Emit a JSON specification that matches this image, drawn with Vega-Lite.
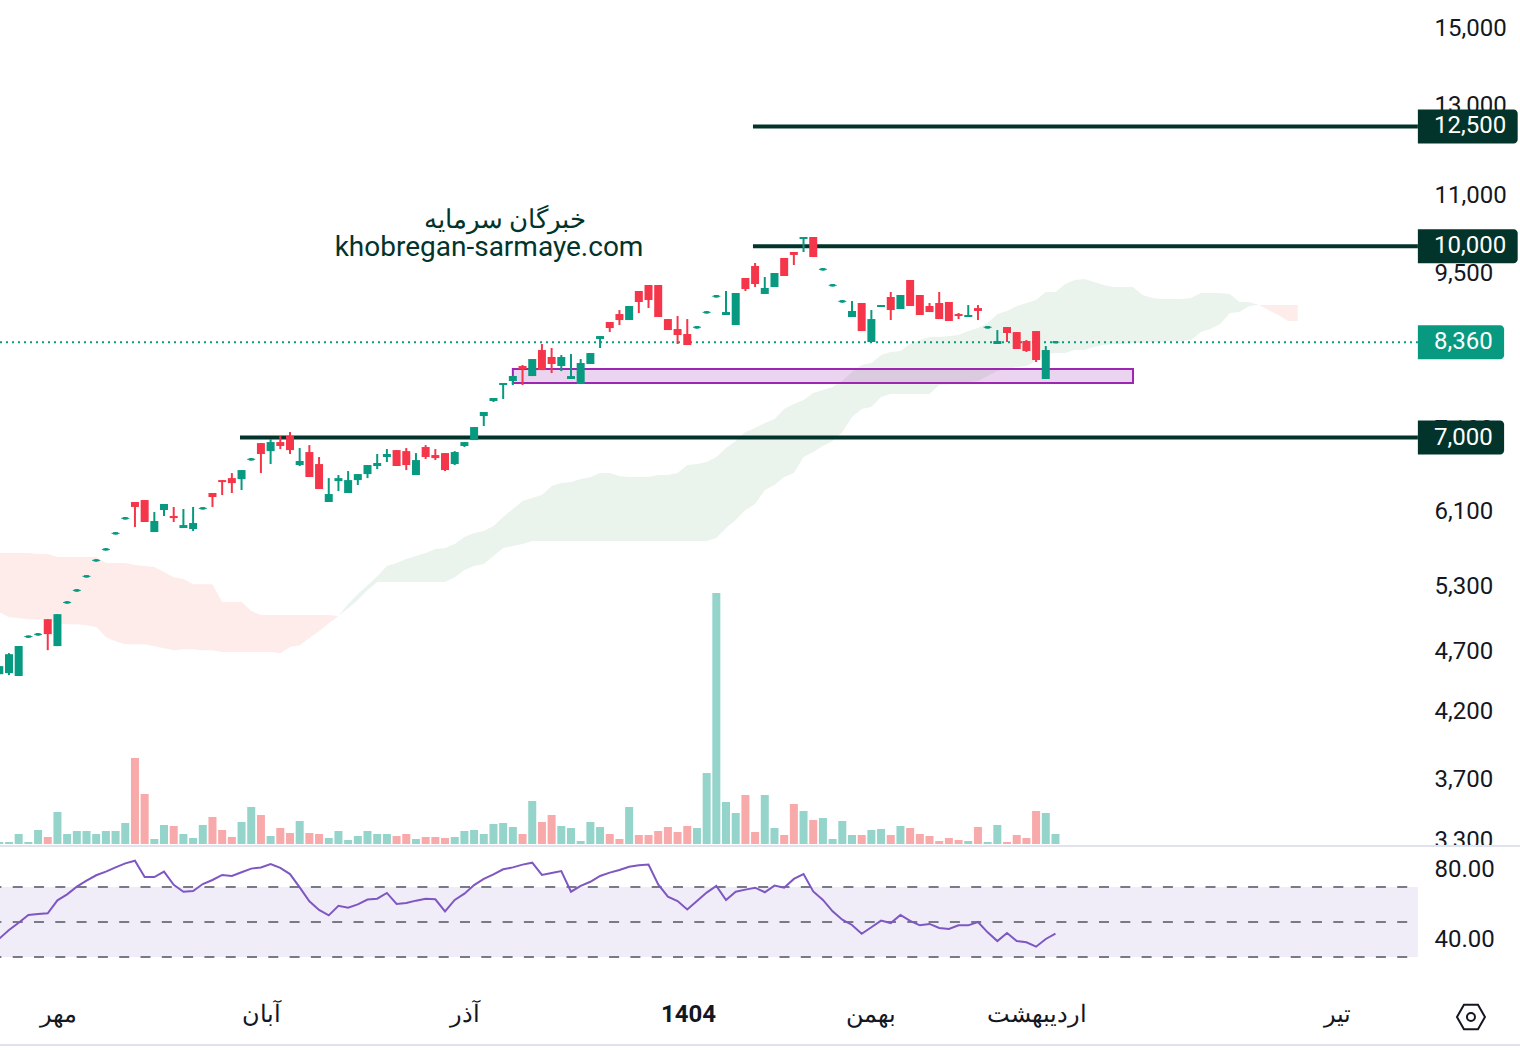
{"$schema":"https://vega.github.io/schema/vega-lite/v6.json","width":1520,"height":1050,"padding":0,"autosize":{"type":"none"},"background":"white","config":{"view":{"stroke":null},"font":"Roboto"},
"datasets":{
"candles":[
{"i":0,"open":4503,"close":4571,"high":4571,"low":4503,"volume":2,"rsi":40.5,"dir":"up"},
{"i":1,"open":4512,"close":4674,"high":4683,"low":4495,"volume":2,"rsi":45.4,"dir":"up"},
{"i":2,"open":4487,"close":4745,"high":4745,"low":4487,"volume":10,"rsi":49.6,"dir":"up"},
{"i":3,"open":4819,"close":4840,"high":4840,"low":4819,"volume":2,"rsi":54,"dir":"up"},
{"i":4,"open":4839,"close":4861,"high":4861,"low":4839,"volume":14,"rsi":54.6,"dir":"up"},
{"i":5,"open":4989,"close":4852,"high":4989,"low":4709,"volume":7,"rsi":55,"dir":"down"},
{"i":6,"open":4745,"close":5036,"high":5036,"low":4745,"volume":32,"rsi":62.4,"dir":"up"},
{"i":7,"open":5136,"close":5159,"high":5159,"low":5136,"volume":10,"rsi":65.8,"dir":"up"},
{"i":8,"open":5252,"close":5276,"high":5276,"low":5252,"volume":13,"rsi":70.2,"dir":"up"},
{"i":9,"open":5392,"close":5416,"high":5416,"low":5392,"volume":13,"rsi":73.6,"dir":"up"},
{"i":10,"open":5555,"close":5579,"high":5579,"low":5555,"volume":10,"rsi":76.7,"dir":"up"},
{"i":11,"open":5670,"close":5695,"high":5695,"low":5670,"volume":13,"rsi":78.8,"dir":"up"},
{"i":12,"open":5842,"close":5868,"high":5868,"low":5842,"volume":13,"rsi":81.2,"dir":"up"},
{"i":13,"open":6008,"close":6035,"high":6035,"low":6008,"volume":21,"rsi":83.5,"dir":"up"},
{"i":14,"open":6207,"close":6150,"high":6207,"low":5924,"volume":86,"rsi":85,"dir":"down"},
{"i":15,"open":6230,"close":5980,"high":6230,"low":5980,"volume":50,"rsi":75.7,"dir":"down"},
{"i":16,"open":5869,"close":5991,"high":6092,"low":5869,"volume":5,"rsi":75.7,"dir":"up"},
{"i":17,"open":6115,"close":6184,"high":6184,"low":6047,"volume":19,"rsi":78.8,"dir":"up"},
{"i":18,"open":6047,"close":6024,"high":6150,"low":5980,"volume":18,"rsi":71.3,"dir":"down"},
{"i":19,"open":5913,"close":5946,"high":6127,"low":5913,"volume":10,"rsi":67.3,"dir":"up"},
{"i":20,"open":5902,"close":5969,"high":6150,"low":5880,"volume":6,"rsi":67.7,"dir":"up"},
{"i":21,"open":6121,"close":6148,"high":6148,"low":6121,"volume":19,"rsi":71.7,"dir":"up"},
{"i":22,"open":6312,"close":6265,"high":6312,"low":6150,"volume":27,"rsi":74,"dir":"down"},
{"i":23,"open":6466,"close":6442,"high":6466,"low":6288,"volume":14,"rsi":76.9,"dir":"down"},
{"i":24,"open":6490,"close":6430,"high":6551,"low":6312,"volume":7,"rsi":76.3,"dir":"down"},
{"i":25,"open":6478,"close":6588,"high":6588,"low":6347,"volume":22,"rsi":78.4,"dir":"up"},
{"i":26,"open":6706,"close":6736,"high":6736,"low":6706,"volume":37,"rsi":80.5,"dir":"up"},
{"i":27,"open":6928,"close":6788,"high":6928,"low":6551,"volume":29,"rsi":81.2,"dir":"down"},
{"i":28,"open":6825,"close":6941,"high":6980,"low":6662,"volume":8,"rsi":83.1,"dir":"up"},
{"i":29,"open":6941,"close":6890,"high":7019,"low":6851,"volume":16,"rsi":80.9,"dir":"down"},
{"i":30,"open":7019,"close":6838,"high":7072,"low":6788,"volume":11,"rsi":77.4,"dir":"down"},
{"i":31,"open":6650,"close":6700,"high":6864,"low":6638,"volume":23,"rsi":69.8,"dir":"up"},
{"i":32,"open":6813,"close":6503,"high":6902,"low":6503,"volume":11,"rsi":61.8,"dir":"down"},
{"i":33,"open":6662,"close":6359,"high":6750,"low":6359,"volume":10,"rsi":56.9,"dir":"down"},
{"i":34,"open":6207,"close":6300,"high":6490,"low":6207,"volume":6,"rsi":53.8,"dir":"up"},
{"i":35,"open":6454,"close":6490,"high":6527,"low":6335,"volume":13,"rsi":59.3,"dir":"up"},
{"i":36,"open":6312,"close":6466,"high":6576,"low":6312,"volume":4,"rsi":58.2,"dir":"up"},
{"i":37,"open":6466,"close":6539,"high":6539,"low":6406,"volume":8,"rsi":60.1,"dir":"up"},
{"i":38,"open":6539,"close":6650,"high":6650,"low":6490,"volume":13,"rsi":62.8,"dir":"up"},
{"i":39,"open":6638,"close":6675,"high":6788,"low":6600,"volume":10,"rsi":63.3,"dir":"up"},
{"i":40,"open":6750,"close":6788,"high":6851,"low":6687,"volume":10,"rsi":66.6,"dir":"up"},
{"i":41,"open":6838,"close":6638,"high":6838,"low":6638,"volume":8,"rsi":60.3,"dir":"down"},
{"i":42,"open":6825,"close":6650,"high":6864,"low":6588,"volume":10,"rsi":60.9,"dir":"down"},
{"i":43,"open":6527,"close":6712,"high":6800,"low":6527,"volume":5,"rsi":62.2,"dir":"up"},
{"i":44,"open":6877,"close":6750,"high":6902,"low":6725,"volume":7,"rsi":63.3,"dir":"down"},
{"i":45,"open":6775,"close":6737,"high":6851,"low":6712,"volume":7,"rsi":63,"dir":"down"},
{"i":46,"open":6800,"close":6588,"high":6800,"low":6576,"volume":6,"rsi":56.1,"dir":"down"},
{"i":47,"open":6662,"close":6813,"high":6825,"low":6650,"volume":7,"rsi":62.6,"dir":"up"},
{"i":48,"open":6890,"close":6941,"high":6941,"low":6877,"volume":13,"rsi":66.2,"dir":"up"},
{"i":49,"open":6967,"close":7138,"high":7138,"low":6967,"volume":14,"rsi":71.1,"dir":"up"},
{"i":50,"open":7286,"close":7341,"high":7341,"low":7152,"volume":10,"rsi":74.6,"dir":"up"},
{"i":51,"open":7493,"close":7535,"high":7535,"low":7479,"volume":20,"rsi":77.2,"dir":"up"},
{"i":52,"open":7720,"close":7749,"high":7749,"low":7521,"volume":21,"rsi":80.1,"dir":"up"},
{"i":53,"open":7778,"close":7850,"high":7850,"low":7720,"volume":17,"rsi":81.2,"dir":"up"},
{"i":54,"open":7998,"close":7953,"high":8013,"low":7720,"volume":10,"rsi":82.8,"dir":"down"},
{"i":55,"open":7850,"close":8103,"high":8103,"low":7850,"volume":43,"rsi":83.9,"dir":"up"},
{"i":56,"open":8240,"close":7938,"high":8333,"low":7938,"volume":22,"rsi":76.9,"dir":"down"},
{"i":57,"open":8134,"close":8028,"high":8271,"low":7894,"volume":29,"rsi":78,"dir":"down"},
{"i":58,"open":7998,"close":8134,"high":8164,"low":7923,"volume":18,"rsi":79.1,"dir":"up"},
{"i":59,"open":7807,"close":7850,"high":8179,"low":7807,"volume":16,"rsi":67.3,"dir":"up"},
{"i":60,"open":7734,"close":8043,"high":8103,"low":7734,"volume":3,"rsi":70.6,"dir":"up"},
{"i":61,"open":8028,"close":8194,"high":8194,"low":8028,"volume":22,"rsi":73,"dir":"up"},
{"i":62,"open":8411,"close":8458,"high":8458,"low":8271,"volume":17,"rsi":76.3,"dir":"up"},
{"i":63,"open":8682,"close":8585,"high":8682,"low":8521,"volume":10,"rsi":78.2,"dir":"down"},
{"i":64,"open":8812,"close":8714,"high":8878,"low":8633,"volume":5,"rsi":79.7,"dir":"down"},
{"i":65,"open":8714,"close":8945,"high":8945,"low":8714,"volume":37,"rsi":81.6,"dir":"up"},
{"i":66,"open":9199,"close":9012,"high":9199,"low":8829,"volume":9,"rsi":82.4,"dir":"down"},
{"i":67,"open":9302,"close":9045,"high":9302,"low":8911,"volume":9,"rsi":82.8,"dir":"down"},
{"i":68,"open":9302,"close":8763,"high":9302,"low":8763,"volume":13,"rsi":71.5,"dir":"down"},
{"i":69,"open":8730,"close":8553,"high":8730,"low":8553,"volume":17,"rsi":64.5,"dir":"down"},
{"i":70,"open":8569,"close":8474,"high":8779,"low":8333,"volume":12,"rsi":62,"dir":"down"},
{"i":71,"open":8490,"close":8317,"high":8730,"low":8317,"volume":18,"rsi":57.2,"dir":"down"},
{"i":72,"open":8577,"close":8617,"high":8617,"low":8577,"volume":16,"rsi":62,"dir":"up"},
{"i":73,"open":8821,"close":8860,"high":8860,"low":8821,"volume":71,"rsi":66.8,"dir":"up"},
{"i":74,"open":9088,"close":9130,"high":9130,"low":9088,"volume":251,"rsi":70.6,"dir":"up"},
{"i":75,"open":8796,"close":8845,"high":9199,"low":8796,"volume":42,"rsi":62.6,"dir":"up"},
{"i":76,"open":8633,"close":9165,"high":9165,"low":8633,"volume":31,"rsi":67.3,"dir":"up"},
{"i":77,"open":9424,"close":9233,"high":9424,"low":9199,"volume":49,"rsi":68.5,"dir":"down"},
{"i":78,"open":9638,"close":9320,"high":9692,"low":9268,"volume":12,"rsi":69.6,"dir":"down"},
{"i":79,"open":9148,"close":9250,"high":9442,"low":9148,"volume":49,"rsi":67,"dir":"up"},
{"i":80,"open":9268,"close":9513,"high":9513,"low":9268,"volume":16,"rsi":70.8,"dir":"up"},
{"i":81,"open":9783,"close":9460,"high":9783,"low":9460,"volume":9,"rsi":69.6,"dir":"down"},
{"i":82,"open":9892,"close":9838,"high":9892,"low":9656,"volume":40,"rsi":74.6,"dir":"down"},
{"i":83,"open":10135,"close":10173,"high":10173,"low":9892,"volume":33,"rsi":77.4,"dir":"up"},
{"i":84,"open":10173,"close":9801,"high":10173,"low":9801,"volume":24,"rsi":67.5,"dir":"down"},
{"i":85,"open":9557,"close":9600,"high":9600,"low":9557,"volume":26,"rsi":62.6,"dir":"up"},
{"i":86,"open":9277,"close":9318,"high":9318,"low":9277,"volume":5,"rsi":56.1,"dir":"up"},
{"i":87,"open":9003,"close":9043,"high":9045,"low":9000,"volume":23,"rsi":51.3,"dir":"up"},
{"i":88,"open":8763,"close":8862,"high":9028,"low":8763,"volume":9,"rsi":48.3,"dir":"up"},
{"i":89,"open":8995,"close":8537,"high":8995,"low":8537,"volume":9,"rsi":43.3,"dir":"down"},
{"i":90,"open":8364,"close":8730,"high":8878,"low":8364,"volume":14,"rsi":47,"dir":"up"},
{"i":91,"open":8928,"close":8961,"high":8961,"low":8928,"volume":15,"rsi":50.8,"dir":"up"},
{"i":92,"open":9096,"close":8878,"high":9182,"low":8714,"volume":9,"rsi":49.4,"dir":"down"},
{"i":93,"open":8895,"close":9130,"high":9130,"low":8895,"volume":18,"rsi":54,"dir":"up"},
{"i":94,"open":9389,"close":8945,"high":9389,"low":8945,"volume":16,"rsi":50.6,"dir":"down"},
{"i":95,"open":9130,"close":8796,"high":9130,"low":8796,"volume":10,"rsi":48.1,"dir":"down"},
{"i":96,"open":8945,"close":8845,"high":8995,"low":8845,"volume":8,"rsi":48.9,"dir":"down"},
{"i":97,"open":8995,"close":8730,"high":9182,"low":8730,"volume":3,"rsi":46.6,"dir":"down"},
{"i":98,"open":9012,"close":8698,"high":9012,"low":8698,"volume":6,"rsi":46,"dir":"down"},
{"i":99,"open":8812,"close":8779,"high":8829,"low":8730,"volume":4,"rsi":48.1,"dir":"down"},
{"i":100,"open":8763,"close":8796,"high":8961,"low":8763,"volume":3,"rsi":48.1,"dir":"up"},
{"i":101,"open":8911,"close":8862,"high":8961,"low":8714,"volume":17,"rsi":50,"dir":"down"},
{"i":102,"open":8577,"close":8617,"high":8617,"low":8577,"volume":2,"rsi":44.1,"dir":"up"},
{"i":103,"open":8333,"close":8380,"high":8553,"low":8333,"volume":19,"rsi":39.1,"dir":"up"},
{"i":104,"open":8601,"close":8506,"high":8601,"low":8364,"volume":2,"rsi":43.7,"dir":"down"},
{"i":105,"open":8521,"close":8256,"high":8521,"low":8256,"volume":9,"rsi":39.1,"dir":"down"},
{"i":106,"open":8380,"close":8225,"high":8395,"low":8210,"volume":6,"rsi":38.4,"dir":"down"},
{"i":107,"open":8537,"close":8088,"high":8537,"low":8058,"volume":33,"rsi":35.9,"dir":"down"},
{"i":108,"open":7807,"close":8240,"high":8302,"low":7807,"volume":31,"rsi":40.3,"dir":"up"},
{"i":109,"open":8344,"close":8380,"high":8380,"low":8344,"volume":10,"rsi":43.3,"dir":"up"}
],
"dojis":[{"i":3,"mid":4830},{"i":4,"mid":4850},{"i":7,"mid":5147},{"i":8,"mid":5264},{"i":9,"mid":5404},{"i":10,"mid":5567},{"i":11,"mid":5682},{"i":12,"mid":5855},{"i":13,"mid":6021},{"i":21,"mid":6134},{"i":26,"mid":6721},{"i":72,"mid":8597},{"i":73,"mid":8840},{"i":74,"mid":9109},{"i":85,"mid":9578},{"i":86,"mid":9297},{"i":87,"mid":9023},{"i":102,"mid":8597},{"i":109,"mid":8362}],
"cloudRed":[
{"i":0,"a":5644,"b":5055},{"i":1,"a":5644,"b":5008},{"i":2,"a":5644,"b":4999},{"i":3,"a":5644,"b":4989},{"i":4,"a":5633,"b":4989},{"i":5,"a":5633,"b":4980},{"i":6,"a":5602,"b":4952},{"i":7,"a":5602,"b":4943},{"i":8,"a":5602,"b":4943},{"i":9,"a":5602,"b":4934},{"i":10,"a":5602,"b":4916},{"i":11,"a":5539,"b":4825},{"i":12,"a":5539,"b":4789},{"i":13,"a":5539,"b":4762},{"i":14,"a":5519,"b":4762},{"i":15,"a":5508,"b":4762},{"i":16,"a":5498,"b":4744},{"i":17,"a":5447,"b":4727},{"i":18,"a":5396,"b":4709},{"i":19,"a":5376,"b":4718},{"i":20,"a":5326,"b":4718},{"i":21,"a":5326,"b":4709},{"i":22,"a":5326,"b":4709},{"i":23,"a":5151,"b":4692},{"i":24,"a":5151,"b":4692},{"i":25,"a":5151,"b":4692},{"i":26,"a":5065,"b":4692},{"i":27,"a":5027,"b":4692},{"i":28,"a":5027,"b":4692},{"i":29,"a":5027,"b":4683},{"i":30,"a":5027,"b":4736},{"i":31,"a":5027,"b":4753},{"i":32,"a":5027,"b":4816},{"i":33,"a":5027,"b":4879},{"i":34,"a":5027,"b":4952},{"i":35,"a":5018,"b":5018},
{"i":130,"a":8961,"b":8961},{"i":131,"a":8961,"b":8878},{"i":132,"a":8961,"b":8796},{"i":133,"a":8961,"b":8698},{"i":134,"a":8961,"b":8698}
],
"cloudGreen":[
{"i":35,"a":5018,"b":5018},{"i":36,"a":5132,"b":5093},{"i":37,"a":5228,"b":5170},{"i":38,"a":5316,"b":5267},{"i":39,"a":5406,"b":5346},{"i":40,"a":5508,"b":5346},{"i":41,"a":5539,"b":5346},{"i":42,"a":5581,"b":5346},{"i":43,"a":5612,"b":5346},{"i":44,"a":5644,"b":5346},{"i":45,"a":5686,"b":5346},{"i":46,"a":5696,"b":5346},{"i":47,"a":5739,"b":5396},{"i":48,"a":5815,"b":5467},{"i":49,"a":5858,"b":5508},{"i":50,"a":5880,"b":5529},{"i":51,"a":5935,"b":5612},{"i":52,"a":6036,"b":5696},{"i":53,"a":6127,"b":5718},{"i":54,"a":6218,"b":5739},{"i":55,"a":6253,"b":5771},{"i":56,"a":6288,"b":5771},{"i":57,"a":6395,"b":5771},{"i":58,"a":6430,"b":5771},{"i":59,"a":6442,"b":5771},{"i":60,"a":6478,"b":5771},{"i":61,"a":6503,"b":5771},{"i":62,"a":6551,"b":5771},{"i":63,"a":6551,"b":5771},{"i":64,"a":6515,"b":5771},{"i":65,"a":6503,"b":5771},{"i":66,"a":6503,"b":5771},{"i":67,"a":6503,"b":5771},{"i":68,"a":6527,"b":5771},{"i":69,"a":6527,"b":5771},{"i":70,"a":6551,"b":5771},{"i":71,"a":6650,"b":5771},{"i":72,"a":6662,"b":5771},{"i":73,"a":6687,"b":5771},{"i":74,"a":6750,"b":5804},{"i":75,"a":6864,"b":5913},{"i":76,"a":6954,"b":6002},{"i":77,"a":7072,"b":6115},{"i":78,"a":7125,"b":6184},{"i":79,"a":7192,"b":6347},{"i":80,"a":7246,"b":6406},{"i":81,"a":7382,"b":6503},{"i":82,"a":7451,"b":6551},{"i":83,"a":7507,"b":6750},{"i":84,"a":7606,"b":6813},{"i":85,"a":7648,"b":6890},{"i":86,"a":7691,"b":6954},{"i":87,"a":7778,"b":7072},{"i":88,"a":7909,"b":7273},{"i":89,"a":8013,"b":7382},{"i":90,"a":8043,"b":7410},{"i":91,"a":8164,"b":7549},{"i":92,"a":8210,"b":7592},{"i":93,"a":8225,"b":7592},{"i":94,"a":8333,"b":7592},{"i":95,"a":8395,"b":7592},{"i":96,"a":8442,"b":7592},{"i":97,"a":8442,"b":7720},{"i":98,"a":8458,"b":7734},{"i":99,"a":8474,"b":7749},{"i":100,"a":8537,"b":7763},{"i":101,"a":8585,"b":7778},{"i":102,"a":8666,"b":7850},{"i":103,"a":8812,"b":7923},{"i":104,"a":8862,"b":7953},{"i":105,"a":8945,"b":7983},{"i":106,"a":8995,"b":7998},{"i":107,"a":9045,"b":8073},{"i":108,"a":9182,"b":8179},{"i":109,"a":9182,"b":8194},{"i":110,"a":9320,"b":8194},{"i":111,"a":9389,"b":8240},{"i":112,"a":9407,"b":8240},{"i":113,"a":9355,"b":8286},{"i":114,"a":9303,"b":8317},{"i":115,"a":9268,"b":8333},{"i":116,"a":9268,"b":8333},{"i":117,"a":9268,"b":8349},{"i":118,"a":9130,"b":8349},{"i":119,"a":9079,"b":8364},{"i":120,"a":9062,"b":8364},{"i":121,"a":9062,"b":8380},{"i":122,"a":9062,"b":8380},{"i":123,"a":9079,"b":8395},{"i":124,"a":9165,"b":8521},{"i":125,"a":9165,"b":8569},{"i":126,"a":9165,"b":8650},{"i":127,"a":9148,"b":8829},{"i":128,"a":9012,"b":8845},{"i":129,"a":9012,"b":8945},{"i":130,"a":8961,"b":8961}
],
"levels":[
{"i":77.78,"i2":146.4,"price":12500},
{"i":77.78,"i2":146.4,"price":10000},
{"i":24.84,"i2":146.4,"price":7000}
],
"labels":[
{"i":146.4,"i2":156.7,"price":12500,"text":"12,500","c":"level"},
{"i":146.4,"i2":156.7,"price":10000,"text":"10,000","c":"level"},
{"i":146.4,"i2":155.3,"price":7000,"text":"7,000","c":"level"},
{"i":146.4,"i2":155.3,"price":8360,"text":"8,360","c":"last"}
]
},
"encoding":{"x":{"field":"i","type":"quantitative","scale":{"domain":[0.0722,156.94],"range":[0,1520],"padding":0,"nice":false,"zero":false},"axis":null}},
"resolve":{"scale":{"y":"independent"},"axis":{"x":"independent","y":"independent"}},
"layer":[
{"data":{"name":"cloudRed"},"transform":[{"filter":"datum.i<=35"}],"mark":{"type":"area","color":"#fdecea"},"encoding":{
 "x":{"field":"i","type":"quantitative","scale":{"domain":[0.0722,156.94],"range":[0,1520],"padding":0,"nice":false,"zero":false},"axis":{"orient":"bottom","offset":-50,"values":[6.06,27,47.96,71.07,89.96,107,138.05],"labelExpr":"datum.value==6.06?'مهر':datum.value==27?'آبان':datum.value==47.96?'آذر':datum.value==71.07?'1404':datum.value==89.96?'بهمن':datum.value==107?'اردیبهشت':'تیر'","ticks":false,"domain":false,"grid":false,"labelFont":"Roboto","labelFontSize":24,"labelColor":"#131722","labelBaseline":"middle","labelPadding":14.5,"labelOverlap":false,"labelBound":false,"labelFlush":false,"labelFontWeight":{"condition":{"test":"datum.value==71.07","value":"bold"},"value":"normal"},"title":null}},
 "y":{"field":"a","type":"quantitative","scale":{"type":"log","domain":[3300,15000],"range":[840.9,28.7],"padding":0,"nice":false,"zero":false},"axis":{"orient":"right","offset":-86,"values":[15000,13000,11000,9500,7100,6100,5300,4700,4200,3700,3300],"format":",","ticks":false,"domain":false,"grid":false,"labelFont":"Roboto","labelFontSize":24,"labelColor":"#131722","labelAlign":"left","labelBaseline":"middle","labelPadding":0,"labelOverlap":false,"labelBound":false,"labelFlush":false,"title":null}},
 "y2":{"field":"b"}}},
{"data":{"name":"cloudRed"},"transform":[{"filter":"datum.i>=130"}],"mark":{"type":"area","color":"#fdecea"},"encoding":{"y":{"field":"a","type":"quantitative","scale":{"type":"log","domain":[3300,15000],"range":[840.9,28.7],"padding":0,"nice":false,"zero":false},"axis":null},"y2":{"field":"b"}}},
{"data":{"name":"cloudGreen"},"mark":{"type":"area","color":"#ebf4ec"},"encoding":{"y":{"field":"a","type":"quantitative","scale":{"type":"log","domain":[3300,15000],"range":[840.9,28.7],"padding":0,"nice":false,"zero":false},"axis":null},"y2":{"field":"b"}}},
{"data":{"values":[{"i":0.0722,"i2":146.4,"price":8360}]},"mark":{"type":"rule","color":"#089981","strokeWidth":2,"strokeDash":[2,4]},"encoding":{"x2":{"field":"i2"},"y":{"field":"price","type":"quantitative","scale":{"type":"log","domain":[3300,15000],"range":[840.9,28.7],"padding":0,"nice":false,"zero":false},"axis":null}}},
{"data":{"values":[{"i":53,"i2":117,"top":7953,"bottom":7749}]},"mark":{"type":"rect","fill":"#9c27b0","fillOpacity":0.2,"stroke":"#9c27b0","strokeWidth":2},"encoding":{"x2":{"field":"i2"},"y":{"field":"top","type":"quantitative","scale":{"type":"log","domain":[3300,15000],"range":[840.9,28.7],"padding":0,"nice":false,"zero":false},"axis":null},"y2":{"field":"bottom"}}},
{"data":{"name":"levels"},"mark":{"type":"rule","color":"#02342b","strokeWidth":4},"encoding":{"x2":{"field":"i2"},"y":{"field":"price","type":"quantitative","scale":{"type":"log","domain":[3300,15000],"range":[840.9,28.7],"padding":0,"nice":false,"zero":false},"axis":null}}},
{"data":{"name":"candles"},"mark":{"type":"rule","strokeWidth":2},"encoding":{"y":{"field":"high","type":"quantitative","scale":{"type":"log","domain":[3300,15000],"range":[840.9,28.7],"padding":0,"nice":false,"zero":false},"axis":null},"y2":{"field":"low"},"color":{"condition":{"test":"datum.dir=='up'","value":"#089981"},"value":"#f5364a"}}},
{"data":{"name":"candles"},"transform":[{"filter":"indexof([3,4,7,8,9,10,11,12,13,21,26,72,73,74,85,86,87,102,109],datum.i)<0"}],"mark":{"type":"bar","size":8,"orient":"vertical"},"encoding":{"y":{"field":"open","type":"quantitative","scale":{"type":"log","domain":[3300,15000],"range":[840.9,28.7],"padding":0,"nice":false,"zero":false},"axis":null},"y2":{"field":"close"},"color":{"condition":{"test":"datum.dir=='up'","value":"#089981"},"value":"#f5364a"}}},
{"data":{"name":"candles"},"transform":[{"filter":"indexof([3,4,7,8,9,10,11,12,13,21,26,72,73,74,85,86,87,102,109],datum.i)>=0"}],"mark":{"type":"bar","size":5,"orient":"vertical","color":"#089981"},"encoding":{"y":{"field":"open","type":"quantitative","scale":{"type":"log","domain":[3300,15000],"range":[840.9,28.7],"padding":0,"nice":false,"zero":false},"axis":null},"y2":{"field":"close"}}},
{"data":{"name":"dojis"},"mark":{"type":"tick","orient":"horizontal","size":8,"thickness":1,"color":"#089981","opacity":1},"encoding":{"y":{"field":"mid","type":"quantitative","scale":{"type":"log","domain":[3300,15000],"range":[840.9,28.7],"padding":0,"nice":false,"zero":false},"axis":null}}},
{"data":{"name":"candles"},"mark":{"type":"bar","size":8,"orient":"vertical"},"encoding":{"y":{"field":"volume","type":"quantitative","scale":{"domain":[0,251],"range":[844,593],"padding":0,"nice":false,"zero":true},"axis":null},"color":{"condition":{"test":"datum.dir=='up'","value":"#94d4ca"},"value":"#f8a9a9"}}},
{"data":{"values":[{"i":0.0722,"i2":146.4,"top":70,"bottom":30}]},"mark":{"type":"rect","fill":"#f0edf9"},"encoding":{"x2":{"field":"i2"},"y":{"field":"top","type":"quantitative","scale":{"domain":[30,90],"range":[957,852],"nice":false,"zero":false},"axis":{"orient":"right","offset":-86,"values":[80,40],"format":".2f","ticks":false,"domain":false,"grid":false,"labelFont":"Roboto","labelFontSize":24,"labelColor":"#131722","labelAlign":"left","labelBaseline":"middle","labelPadding":0,"labelOverlap":false,"labelBound":false,"labelFlush":false,"title":null}},"y2":{"field":"bottom"}}},
{"data":{"values":[{"i":0.0722,"i2":146.4,"level":70},{"i":0.0722,"i2":146.4,"level":50},{"i":0.0722,"i2":146.4,"level":30}]},"mark":{"type":"rule","color":"#787b86","strokeWidth":2,"strokeDash":[10,11.3],"strokeDashOffset":8.6},"encoding":{"x2":{"field":"i2"},"y":{"field":"level","type":"quantitative","scale":{"domain":[30,90],"range":[957,852],"nice":false,"zero":false},"axis":null}}},
{"data":{"name":"candles"},"mark":{"type":"line","color":"#7e57c2","strokeWidth":2,"interpolate":"linear"},"encoding":{"y":{"field":"rsi","type":"quantitative","scale":{"domain":[30,90],"range":[957,852],"nice":false,"zero":false},"axis":null}}},
{"data":{"values":[{"i":146.4,"i2":156.94,"top":93.4,"bottom":86.6}]},"mark":{"type":"rect","fill":"white"},"encoding":{"x2":{"field":"i2"},"y":{"field":"top","type":"quantitative","scale":{"domain":[30,90],"range":[957,852],"nice":false,"zero":false},"axis":null},"y2":{"field":"bottom"}}},
{"data":{"values":[{"i":0.0722,"i2":156.94,"level":93.4},{"i":0.0722,"i2":156.94,"level":-20.3}]},"mark":{"type":"rule","color":"#e0e3eb","strokeWidth":2},"encoding":{"x2":{"field":"i2"},"y":{"field":"level","type":"quantitative","scale":{"domain":[30,90],"range":[957,852],"nice":false,"zero":false},"axis":null}}},
{"data":{"name":"labels"},"mark":{"type":"bar","size":34,"orient":"horizontal","cornerRadiusTopRight":4,"cornerRadiusBottomRight":4},"encoding":{"x2":{"field":"i2"},"y":{"field":"price","type":"quantitative","scale":{"type":"log","domain":[3300,15000],"range":[840.9,28.7],"padding":0,"nice":false,"zero":false},"axis":null},"color":{"condition":{"test":"datum.c=='level'","value":"#02342b"},"value":"#089981"}}},
{"data":{"name":"labels"},"mark":{"type":"text","align":"left","baseline":"middle","font":"Roboto","fontSize":24,"color":"white"},"encoding":{"x":{"datum":148.06,"type":"quantitative","scale":{"domain":[0.0722,156.94],"range":[0,1520],"padding":0,"nice":false,"zero":false},"axis":null},"y":{"field":"price","type":"quantitative","scale":{"type":"log","domain":[3300,15000],"range":[840.9,28.7],"padding":0,"nice":false,"zero":false},"axis":null},"text":{"field":"text"}}},
{"data":{"values":[{"i":52.2,"price":10500,"text":"خبرگان سرمایه"}]},"mark":{"type":"text","align":"center","baseline":"middle","font":"Roboto","fontSize":25.5,"color":"#02342b"},"encoding":{"y":{"field":"price","type":"quantitative","scale":{"type":"log","domain":[3300,15000],"range":[840.9,28.7],"padding":0,"nice":false,"zero":false},"axis":null},"text":{"field":"text"}}},
{"data":{"values":[{"i":50.54,"price":9960,"text":"khobregan-sarmaye.com"}]},"mark":{"type":"text","align":"center","baseline":"middle","font":"Roboto","fontSize":28,"color":"#02342b"},"encoding":{"y":{"field":"price","type":"quantitative","scale":{"type":"log","domain":[3300,15000],"range":[840.9,28.7],"padding":0,"nice":false,"zero":false},"axis":null},"text":{"field":"text"}}},
{"data":{"values":[{"i":151.88,"level":-4.29}]},"mark":{"type":"point","shape":"M-1,0L-0.5,-0.87L0.5,-0.87L1,0L0.5,0.87L-0.5,0.87Z","size":784,"filled":false,"color":"#131722","strokeWidth":2,"opacity":1},"encoding":{"y":{"field":"level","type":"quantitative","scale":{"domain":[30,90],"range":[957,852],"nice":false,"zero":false},"axis":null}}},
{"data":{"values":[{"i":151.88,"level":-4.29}]},"mark":{"type":"point","shape":"circle","size":64,"filled":false,"color":"#131722","strokeWidth":2,"opacity":1},"encoding":{"y":{"field":"level","type":"quantitative","scale":{"domain":[30,90],"range":[957,852],"nice":false,"zero":false},"axis":null}}}
]}
